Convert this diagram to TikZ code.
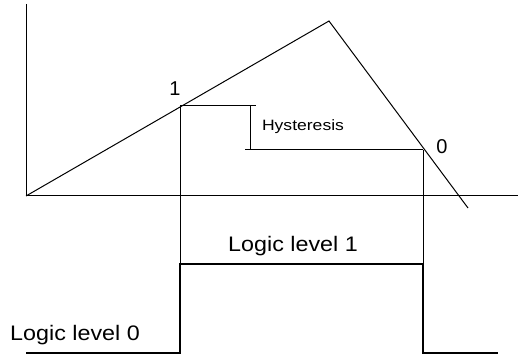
\documentclass[tikz,border=0pt]{standalone}
\usepackage{fontspec}
\setmainfont{Liberation Sans}
\begin{document}
\begin{tikzpicture}[x=1pt,y=-1pt,
  thinline/.style={line width=1pt,black},
  pulse/.style={line width=2.4pt,black,line join=miter},
  lbl/.style={inner sep=0pt,font=\fontsize{21}{25}\selectfont,xscale=1.11,transform shape},
  small/.style={inner sep=0pt,font=\fontsize{15}{18}\selectfont,xscale=1.17,transform shape},
  digit/.style={inner sep=0pt,font=\fontsize{20}{24}\selectfont}]
\useasboundingbox (0,0) rectangle (520,358);
% axes
\coordinate (ytop) at (26,4);
\coordinate (o) at (26,196);
\coordinate (xend) at (518,196);
\draw[thinline] (ytop) -- (o) -- (xend);
% ramp
\coordinate (peak) at (329,21);
\coordinate (rend) at (468,208);
\draw[thinline] (o) -- (peak) -- (rend);
% thresholds
\coordinate (p1) at (180,106);
\coordinate (p1r) at (256,106);
\coordinate (hb) at (250,106);
\coordinate (hbb) at (250,150);
\coordinate (p0l) at (245,150);
\coordinate (p0) at (423,150);
\draw[thinline] (p1) -- (p1r);
\draw[thinline] (hb) -- (hbb);
\draw[thinline] (p0l) -- (p0);
% pulse
\coordinate (a0) at (26,353);
\coordinate (a1) at (180,353);
\coordinate (a2) at (180,264);
\coordinate (a3) at (423,264);
\coordinate (a4) at (423,353);
\coordinate (a5) at (498,353);
\draw[thinline] (p1) -- (a2);
\draw[thinline] (p0) -- (a3);
\draw[pulse] (a0) -- (a1) -- (a2) -- (a3) -- (a4) -- (a5);
% labels
\node[digit] (one) at (175,89) {1};
\node[digit] (zero) at (442,147) {0};
\node[small] (hyst) at (303,127) {Hysteresis};
\node[lbl] (l1) at (293,246) {Logic level 1};
\node[lbl] (l0) at (75,335) {Logic level 0};
\end{tikzpicture}
\end{document}
